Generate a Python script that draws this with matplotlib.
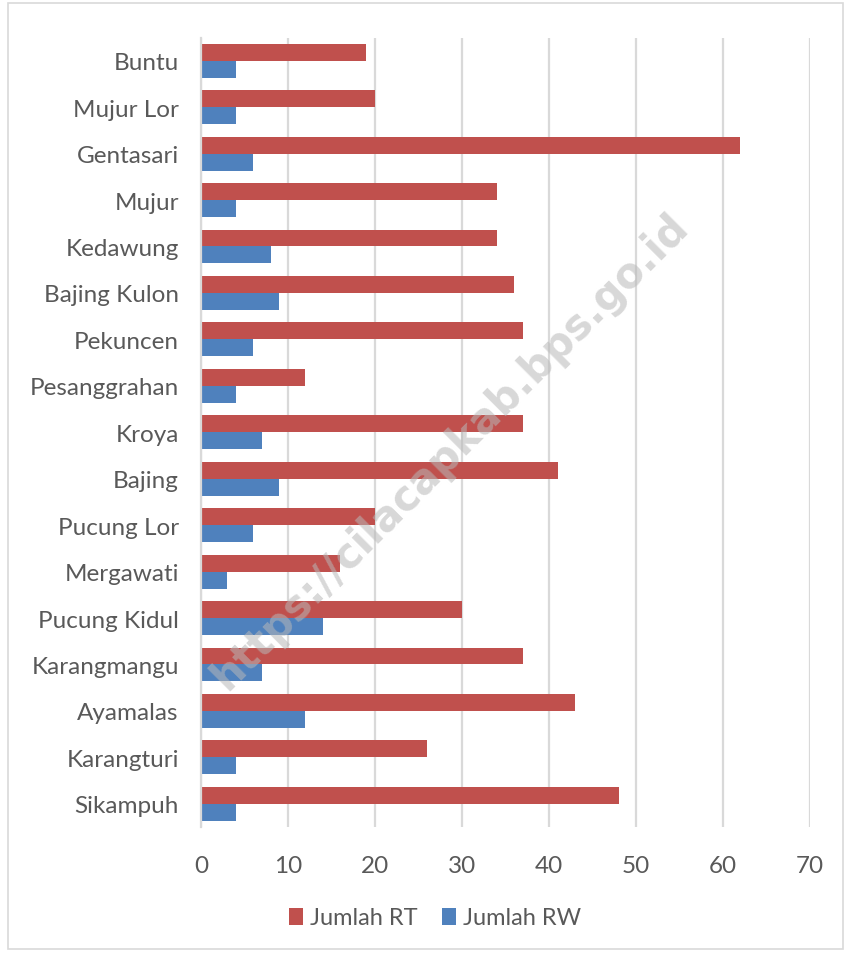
import numpy as np
import matplotlib.pyplot as plt
from matplotlib.patches import Rectangle

plt.rcParams['font.family'] = ['Lato', 'DejaVu Sans']

# Desa / kelurahan, listed top to bottom as in the chart
desa = ["Buntu", "Mujur Lor", "Gentasari", "Mujur", "Kedawung", "Bajing Kulon",
        "Pekuncen", "Pesanggrahan", "Kroya", "Bajing", "Pucung Lor", "Mergawati",
        "Pucung Kidul", "Karangmangu", "Ayamalas", "Karangturi", "Sikampuh"]
jumlah_rt = [19, 20, 62, 34, 34, 36, 37, 12, 37, 41, 20, 16, 30, 37, 43, 26, 48]
jumlah_rw = [4, 4, 6, 4, 8, 9, 6, 4, 7, 9, 6, 3, 14, 7, 12, 4, 4]
xticks = [0, 10, 20, 30, 40, 50, 60, 70]

red = "#C0504D"
blue = "#4F81BD"
text_col = "#595959"
grid_col = "#D9D9D9"

fig = plt.figure(figsize=(8.45, 9.54), dpi=100)
ax = fig.add_axes([201 / 845, 1 - 828 / 954, (810 - 201) / 845, (828 - 38.5) / 954])

n = len(desa)
y = np.arange(n)[::-1]
h = 0.365
ax.barh(y + h / 2, jumlah_rt, height=h, color=red, label="Jumlah RT", zorder=3)
ax.barh(y - h / 2, jumlah_rw, height=h, color=blue, label="Jumlah RW", zorder=3)

ax.set_xlim(0, 70)
ax.set_ylim(-0.5, n - 0.5)
ax.set_xticks(xticks)
ax.set_xticklabels([str(v) for v in xticks])
ax.set_yticks(y)
ax.set_yticklabels(desa)
ax.tick_params(axis='both', length=0, labelsize=17.5, colors=text_col)
ax.tick_params(axis='x', pad=20)
ax.tick_params(axis='y', pad=16)

ax.grid(axis='x', color=grid_col, linewidth=1.6, zorder=0)
for s in ['top', 'right', 'bottom']:
    ax.spines[s].set_visible(False)
ax.spines['left'].set_color(grid_col)
ax.spines['left'].set_linewidth(1.6)
ax.spines['left'].set_zorder(4)

leg = fig.legend(loc='center', bbox_to_anchor=(435 / 845, 1 - 919 / 954), ncol=2,
                 frameon=False, fontsize=17, handlelength=0.6, handleheight=0.7,
                 handletextpad=0.3, columnspacing=1.0)
for t in leg.get_texts():
    t.set_color(text_col)

# watermark
fig.text(450 / 845, 1 - 452 / 954, "https://cilacapkab.bps.go.id", rotation=45,
         ha='center', va='center', fontsize=30, fontweight='bold',
         color='#B8B8B8', alpha=0.55, family='DejaVu Sans', zorder=10)

# chart area border
fig.patches.append(Rectangle((8 / 845, 4 / 954), 835 / 845, 946 / 954,
                             transform=fig.transFigure, fill=False,
                             edgecolor=grid_col, linewidth=1.2))

fig.savefig("out.png", dpi=100)
